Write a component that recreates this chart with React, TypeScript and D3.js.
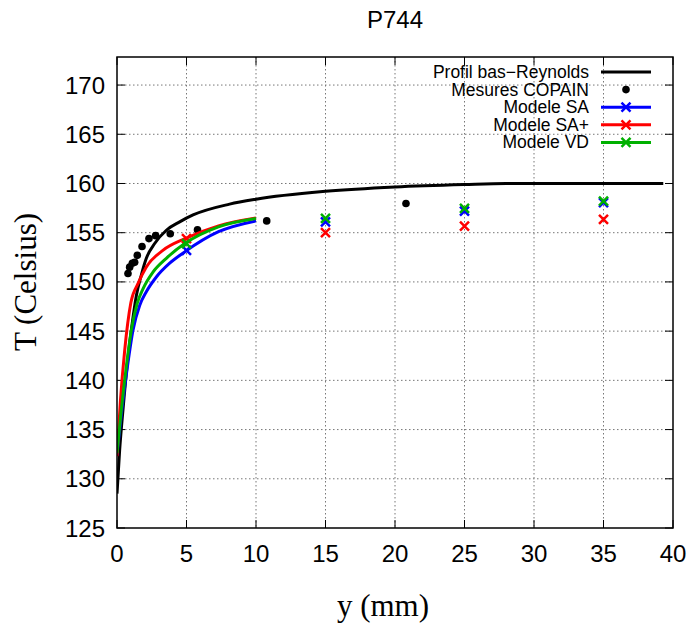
import React from "react";
import * as d3 from "d3";

const title = "P744";
const xTicks = [0, 5, 10, 15, 20, 25, 30, 35, 40];
const yTicks = [125, 130, 135, 140, 145, 150, 155, 160, 165, 170];

const profileX = [0, 0.19, 0.43, 0.72, 1.03, 1.39, 1.75, 2.11, 2.71, 3.55, 4.51, 5.47, 8.1, 10, 15, 20, 25, 28, 39.3];
const profileT = [128.5, 132.9, 137, 141.4, 145.1, 148.6, 150.7, 152.4, 153.9, 155.25, 156.1, 156.8, 157.9, 158.4, 159.2, 159.65, 159.9, 160, 160];

const mesX = [0.79, 0.91, 1.1, 1.27, 1.46, 1.8, 2.3, 2.78, 3.83, 5.79, 10.77, 20.79];
const mesT = [150.86, 151.5, 151.9, 152.0, 152.7, 153.6, 154.4, 154.7, 154.9, 155.3, 156.2, 157.96];

const saX = [0, 0.35, 0.75, 1.15, 1.63, 2.11, 2.83, 3.79, 4.87, 7.3, 10];
const saT = [132.4, 137, 141.4, 145.1, 147.6, 149.0, 150.5, 151.9, 153.05, 155.1, 156.2];
const saPlusX = [0, 0.25, 0.55, 1.0, 1.5, 2.1, 3.3, 4.9, 7.3, 10];
const saPlusT = [132.3, 138, 143, 147.9, 149.8, 151.5, 153.2, 154.4, 155.7, 156.5];
const vdX = [0, 0.31, 0.67, 1.03, 1.45, 1.87, 2.59, 3.55, 4.87, 7.3, 10];
const vdT = [132.6, 137, 141.4, 145.1, 147.8, 149.3, 151.0, 152.4, 153.9, 155.6, 156.45];

const markX = [5, 15, 25, 35];
const saMarkT = [153.2, 156.1, 157.2, 158.05];
const saPlusMarkT = [154.4, 155.0, 155.66, 156.35];
const vdMarkT = [153.9, 156.45, 157.46, 158.2];

const legendLabels = ["Profil bas\u2212Reynolds", "Mesures COPAIN", "Modele SA", "Modele SA+", "Modele VD"];

const W = 692, H = 628;
const L = 117, R = 673, T = 57, B = 528;
const SANS = "'Liberation Sans', Arial, Helvetica, sans-serif";
const SERIF = "'Liberation Serif', 'Times New Roman', serif";
const BLUE = "#0000ff", RED = "#ff0000", GREEN = "#00b000";

export default function App() {
  const x = d3.scaleLinear().domain([0, 40]).range([L, R]);
  const y = d3.scaleLinear().domain([125, 172.85]).range([B, T]);
  const line = (xs: number[], ts: number[]) =>
    d3.line<number>().x((_, i) => x(xs[i])).y((_, i) => y(ts[i])).curve(d3.curveMonotoneX)(ts) || "";

  const cross = (cx: number, cy: number, color: string, key: string, s = 4.5) => (
    <path key={key} d={`M${cx - s},${cy - s}L${cx + s},${cy + s}M${cx - s},${cy + s}L${cx + s},${cy - s}`} stroke={color} strokeWidth={2.5} fill="none" />
  );

  const series = [
    { xs: saX, ts: saT, mt: saMarkT, c: BLUE },
    { xs: saPlusX, ts: saPlusT, mt: saPlusMarkT, c: RED },
    { xs: vdX, ts: vdT, mt: vdMarkT, c: GREEN },
  ];

  const legendTextX = 589, sampleX0 = 601, sampleX1 = 651, legY0 = 72, legDy = 17.6;

  return (
    <svg width={W} height={H} style={{ position: "absolute", left: 0, top: 0, background: "#fff" }}>
      <rect x={0} y={0} width={W} height={H} fill="#fff" />
      <text x={(L + R) / 2} y={28} textAnchor="middle" fontFamily={SANS} fontSize={24}>{title}</text>
      {/* grid */}
      {xTicks.filter(t => t > 0 && t < 40).map(t => (
        <line key={"gx" + t} x1={x(t)} x2={x(t)} y1={T} y2={B} stroke="#777" strokeWidth={1} strokeDasharray="1.5,2.5" />
      ))}
      {yTicks.filter(t => t > 125).map(t => (
        <line key={"gy" + t} x1={L} x2={R} y1={y(t)} y2={y(t)} stroke="#777" strokeWidth={1} strokeDasharray="1.5,2.5" />
      ))}
      {/* ticks */}
      {xTicks.map(t => (
        <g key={"tx" + t}>
          <line x1={x(t)} x2={x(t)} y1={B} y2={B - 8} stroke="#000" strokeWidth={1} />
          <line x1={x(t)} x2={x(t)} y1={T} y2={T + 8} stroke="#000" strokeWidth={1} />
          <text x={x(t)} y={562} textAnchor="middle" fontFamily={SANS} fontSize={24}>{t}</text>
        </g>
      ))}
      {yTicks.map(t => (
        <g key={"ty" + t}>
          <line x1={L} x2={L + 8} y1={y(t)} y2={y(t)} stroke="#000" strokeWidth={1} />
          <line x1={R} x2={R - 8} y1={y(t)} y2={y(t)} stroke="#000" strokeWidth={1} />
          <text x={105} y={y(t) + 8.5} textAnchor="end" fontFamily={SANS} fontSize={24}>{t}</text>
        </g>
      ))}
      {/* axis labels */}
      <text x={383} y={616} textAnchor="middle" fontFamily={SERIF} fontSize={31}>y (mm)</text>
      <text transform={`translate(36,282) rotate(-90)`} textAnchor="middle" fontFamily={SERIF} fontSize={31}>T (Celsius)</text>

      <defs>
        <clipPath id="plotclip"><rect x={L} y={T} width={R - L} height={B - T} /></clipPath>
      </defs>
      <g clipPath="url(#plotclip)">
        <path d={line(profileX, profileT)} stroke="#000" strokeWidth={3} fill="none" />
        {mesX.map((v, i) => <circle key={"m" + i} cx={x(v)} cy={y(mesT[i])} r={3.8} fill="#000" />)}
        {series.map((s, si) => (
          <g key={"s" + si}>
            <path d={line(s.xs, s.ts)} stroke={s.c} strokeWidth={3} fill="none" />
            {markX.map((v, i) => cross(x(v), y(s.mt[i]), s.c, "c" + si + i))}
          </g>
        ))}
      </g>

      {/* legend */}
      {legendLabels.map((lab, i) => (
        <text key={"l" + i} x={legendTextX} y={legY0 + i * legDy + 6} textAnchor="end" fontFamily={SANS} fontSize={17.5}>{lab}</text>
      ))}
      <line x1={sampleX0} x2={sampleX1} y1={legY0} y2={legY0} stroke="#000" strokeWidth={3} />
      <circle cx={(sampleX0 + sampleX1) / 2} cy={legY0 + legDy} r={3.8} fill="#000" />
      {series.map((s, si) => {
        const ly = legY0 + (si + 2) * legDy;
        return (
          <g key={"ls" + si}>
            <line x1={sampleX0} x2={sampleX1} y1={ly} y2={ly} stroke={s.c} strokeWidth={3} />
            {cross((sampleX0 + sampleX1) / 2, ly, s.c, "lc" + si)}
          </g>
        );
      })}

      <rect x={L} y={T} width={R - L} height={B - T} fill="none" stroke="#000" strokeWidth={1.5} />
    </svg>
  );
}
